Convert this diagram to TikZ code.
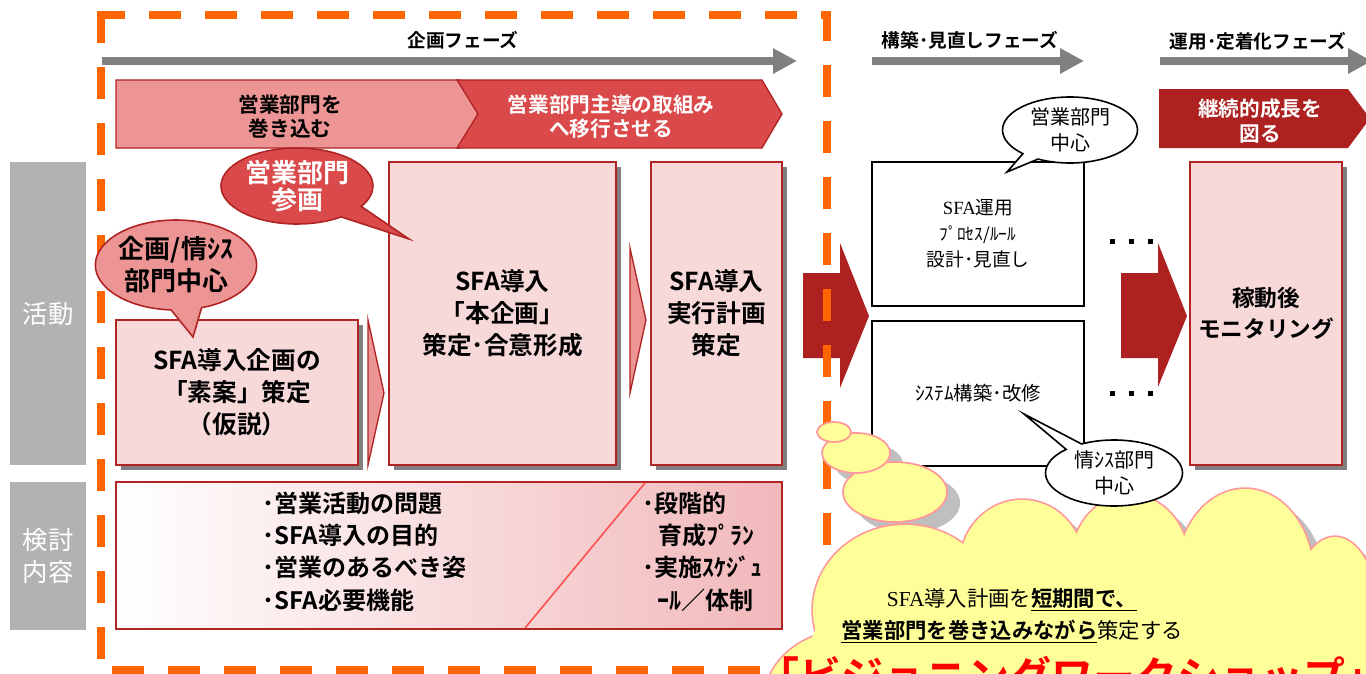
\documentclass[tikz,border=0pt]{standalone}
\usepackage{fontspec}
\setmainfont{Noto Sans CJK JP}[BoldFont={Noto Sans CJK JP Bold}]
\newfontfamily\serifl{Liberation Serif}
\usetikzlibrary{shapes.callouts,shapes.geometric,shadows,arrows.meta}
\definecolor{dred}{RGB}{176,36,36}
\definecolor{boxpink}{RGB}{247,217,218}
\definecolor{midpink}{RGB}{236,149,148}
\definecolor{bred}{RGB}{218,74,74}
\definecolor{arrowred}{RGB}{173,33,33}
\definecolor{phasegray}{RGB}{128,128,128}
\definecolor{labgray}{RGB}{178,178,178}
\definecolor{orng}{RGB}{255,102,0}
\definecolor{cloudy}{RGB}{255,255,153}
\definecolor{cloudb}{RGB}{255,153,153}
\definecolor{shgray}{RGB}{191,191,191}
\definecolor{gradpink}{RGB}{241,184,186}
\definecolor{diagred}{RGB}{255,80,80}
\begin{document}
\begin{tikzpicture}[x=0.75pt,y=-0.75pt,
  sz/.style 2 args={minimum width=#1*0.75pt, minimum height=#2*0.75pt, inner sep=0pt},
  pbox/.style={draw=dred, line width=1.5pt, fill=boxpink,
    drop shadow={shadow xshift=3.75pt, shadow yshift=-3.75pt, fill=phasegray, opacity=1}},
  wbox/.style={draw=black, line width=1.5pt, fill=white},
  btxt/.style={font=\bfseries\fontsize{18.5pt}{24pt}\selectfont, align=center},
  phase/.style={font=\bfseries\fontsize{14pt}{17pt}\selectfont},
  parrow/.style={draw=phasegray, line width=6pt, -{Triangle[length=18pt,width=18pt]}},
  glabel/.style={fill=labgray, text=white, font=\fontsize{19pt}{24pt}\selectfont, align=center},
  bantxt/.style={font=\bfseries\fontsize{15.5pt}{18pt}\selectfont, align=center},
  blockarrow/.style={fill=arrowred},
  smalltri/.style={fill=midpink, draw=dred, line width=1pt},
  cloudpart/.style={fill=cloudy}
]
\useasboundingbox (0,0) rectangle (1366,674);
\clip (0,0) rectangle (1366,674);

% phase arrows
\coordinate (a1s) at (102,61); \coordinate (a1e) at (797,61);
\coordinate (a2s) at (872,61); \coordinate (a2e) at (1084,61);
\coordinate (a3s) at (1160,61); \coordinate (a3e) at (1372,61);
\draw[parrow] (a1s) -- (a1e);
\draw[parrow] (a2s) -- (a2e);
\draw[parrow] (a3s) -- (a3e);
\node[phase] (ph1) at (463,40) {企画フェーズ};
\node[phase] (ph2) at (970,40) {構築･見直しフェーズ};
\node[phase] (ph3) at (1258,41) {運用･定着化フェーズ};

% banners
\path[fill=midpink, draw=dred, line width=1pt] (116,80) -- (460,80) -- (478,114) -- (460,148) -- (116,148) -- cycle;
\path[fill=bred, draw=dred, line width=1pt] (457,80) -- (762,80) -- (782,114) -- (762,148) -- (457,148) -- (478,114) -- cycle;
\node[bantxt] (ban1) at (290,117) {営業部門を\\巻き込む};
\node[bantxt, text=white] (ban2) at (611,117) {営業部門主導の取組み\\へ移行させる};
\path[fill=arrowred] (1159,89) -- (1348,89) -- (1370,118.5) -- (1348,148) -- (1159,148) -- cycle;
\node[bantxt, text=white, font=\bfseries\fontsize{15.5pt}{19pt}\selectfont] (ban3) at (1260,121) {継続的成長を\\図る};

% side labels
\node[glabel, sz={76}{303}] (lab1) at (48,313.5) {活動};
\node[glabel, sz={76}{148}] (lab2) at (48,556) {検討\\内容};

% activity boxes
\node[pbox, sz={242}{145}, btxt] (boxA) at (237,392.5) {SFA導入企画の\\「素案」策定\\（仮説）};
\path[smalltri] (368,320) -- (384,393) -- (368,465) -- cycle;
\node[pbox, sz={227}{303}, btxt] (boxB) at (502.5,313.5) {SFA導入\\「本企画」\\策定･合意形成};
\path[smalltri] (630,248) -- (646,320) -- (630,393) -- cycle;
\node[pbox, sz={131}{303}, btxt] (boxC) at (716.5,313.5) {SFA導入\\実行計画\\策定};
\node[wbox, sz={212}{144}, align=center, font=\fontsize{14pt}{19.5pt}\selectfont] (boxD) at (978,234)
  {{\serifl SFA}運用\\{\fontsize{13pt}{19.5pt}\selectfont ﾌﾟﾛｾｽ/ﾙｰﾙ}\\設計･見直し};
\node[wbox, sz={212}{145}, font=\fontsize{14.5pt}{18pt}\selectfont] (boxE) at (978,393.5) {ｼｽﾃﾑ構築･改修};
\node[pbox, sz={152}{303}, btxt, font=\bfseries\fontsize{17pt}{23pt}\selectfont] (boxF) at (1266,313.5) {稼動後\\モニタリング};

% block arrows
\path[blockarrow] (803,273) -- (840,273) -- (840,243) -- (869,316) -- (840,388) -- (840,358) -- (803,358) -- cycle;
\path[blockarrow] (1121,273) -- (1158,273) -- (1158,243) -- (1187,316) -- (1158,387) -- (1158,358) -- (1121,358) -- cycle;

% dots
\foreach \xx in {1112,1131,1150} {
  \fill (\xx-2.5,238.5) rectangle ++(5,5);
  \fill (\xx-2.5,390.5) rectangle ++(5,5);
}

% study box
\node[draw=dred, line width=1.5pt, left color=white, right color=gradpink, sz={666}{147}] (kbox) at (449,555.5) {};
\draw[diagred, line width=1.2pt] (645,483) -- (525,628);
\node[anchor=west, align=left, font=\bfseries\fontsize{18pt}{24.2pt}\selectfont] (kl) at (258,551.5)
  {･営業活動の問題\\･SFA導入の目的\\･営業のあるべき姿\\･SFA必要機能};
\node[anchor=west, align=left, font=\bfseries\fontsize{18pt}{24.2pt}\selectfont] (kr) at (638,551.5)
  {･段階的\\\hspace*{12pt}育成ﾌﾟﾗﾝ\\･実施ｽｹｼﾞｭ\\\hspace*{11pt}ｰﾙ／体制};

% orange dashed frame
\draw[orng, line width=6pt, dash pattern=on 24pt off 18pt, dash phase=6pt] (101,15) -- (827,15) -- (827,670) -- (101,670);
\draw[orng, line width=6pt, dash pattern=on 24pt off 18pt] (101,11) -- (101,670);

% callouts
\node[ellipse callout, draw=dred, line width=1.2pt, fill=bred, sz={152}{76},
  callout absolute pointer={(409,239)}, callout pointer arc=22, text=white,
  font=\bfseries\fontsize{19.5pt}{20.5pt}\selectfont, align=center] (c1) at (297,186) {営業部門\\参画};
\node[ellipse callout, draw=dred, line width=1.2pt, fill=midpink, sz={154}{90},
  callout absolute pointer={(193,337)}, callout pointer arc=22,
  font=\bfseries\fontsize{19.5pt}{24pt}\selectfont, align=center] (c2) at (176,265) {企画/情ｼｽ\\部門中心};
\node[ellipse callout, draw=black, line width=1.2pt, fill=white, sz={135}{66},
  callout absolute pointer={(1007,172)}, callout pointer arc=16,
  font=\fontsize{15pt}{20pt}\selectfont, align=center] (c3) at (1070,130) {営業部門\\中心};

% cloud shadows
\foreach \cx/\cy/\rx/\ry in {834/432/17/10, 856/453/34/20, 895/492/52/30,
   905/610/92/85, 1022/565/62/65, 1130/560/58/65, 1245/575/68/86, 1335/625/45/88, 850/700/85/70}
  \fill[shgray] (\cx+13,\cy+11) ellipse [x radius={\rx*0.75pt}, y radius={\ry*0.75pt}];
% thought bubbles
\foreach \cx/\cy/\rx/\ry in {895/492/52/30, 856/453/34/20, 834/432/17/10}
  \path[fill=cloudy, draw=cloudb, line width=1.3pt] (\cx,\cy) ellipse [x radius={\rx*0.75pt}, y radius={\ry*0.75pt}];
% cloud body
\foreach \cx/\cy/\rx/\ry in {905/610/92/85, 1022/565/62/65, 1130/560/58/65, 1245/575/68/86, 1335/625/45/88, 850/700/85/70}
  \draw[cloudb, line width=2.6pt] (\cx,\cy) ellipse [x radius={\rx*0.75pt}, y radius={\ry*0.75pt}];
\foreach \cx/\cy/\rx/\ry in {905/610/92/85, 1022/565/62/65, 1130/560/58/65, 1245/575/68/86, 1335/625/45/88, 850/700/85/70, 1080/650/270/100}
  \fill[cloudpart] (\cx,\cy) ellipse [x radius={\rx*0.75pt}, y radius={\ry*0.75pt}];

\node[align=center, font=\fontsize{16pt}{24pt}\selectfont] (ct) at (1012,616)
  {{\serifl SFA}導入計画を\underline{\textbf{短期間で、}}\\\underline{\textbf{営業部門を巻き込みながら}}策定する};
\node[text=red, font=\bfseries\fontsize{31.5pt}{36pt}\selectfont] (cr) at (1072,676) {「ビジョニングワークショップ」};

\node[ellipse callout, draw=black, line width=1.2pt, fill=white, sz={137}{66},
  callout absolute pointer={(1024,414)}, callout pointer arc=16,
  font=\fontsize{15pt}{20pt}\selectfont, align=center] (c4) at (1114,473) {情ｼｽ部門\\中心};
\end{tikzpicture}
\end{document}
